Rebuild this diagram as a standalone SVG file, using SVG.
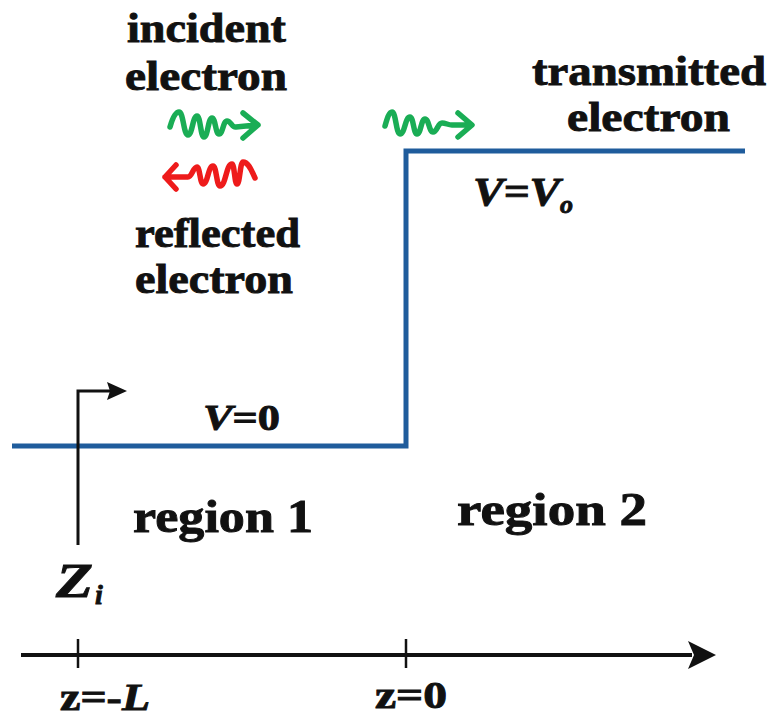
<svg xmlns="http://www.w3.org/2000/svg" width="772" height="717" viewBox="0 0 772 717">
<style>
.t{font-family:"Liberation Serif","Times New Roman",serif;font-weight:bold;fill:#111;stroke:#111;stroke-width:0.9}
.it{font-style:italic}
.w{fill:none;stroke-width:5.5;stroke-linecap:round;stroke-linejoin:round}
.g{stroke:#1aad55}
.r{stroke:#ee1b1b}
</style>
<rect width="772" height="717" fill="#fff"/>
<g id="potential">
<path d="M12,446 H406 V151 H745" fill="none" stroke="#1f5c9c" stroke-width="5"/>
</g>
<g id="labels-top">
<text class="t" x="127" y="42" font-size="42" textLength="159" lengthAdjust="spacingAndGlyphs">incident</text>
<text class="t" x="125" y="90" font-size="42" textLength="162" lengthAdjust="spacingAndGlyphs">electron</text>
<text class="t" x="135" y="247" font-size="42" textLength="165" lengthAdjust="spacingAndGlyphs">reflected</text>
<text class="t" x="135" y="293" font-size="42" textLength="158" lengthAdjust="spacingAndGlyphs">electron</text>
<text class="t" x="532" y="85" font-size="42" textLength="234" lengthAdjust="spacingAndGlyphs">transmitted</text>
<text class="t" x="567" y="131" font-size="42" textLength="163" lengthAdjust="spacingAndGlyphs">electron</text>
</g>
<g id="waves">
<path class="w g" d="M170,127 C172,120 175,112 179,112 C183.5,112 183.5,135 188,135 C192.5,135 192.5,116 197,116 C200.5,116 200.5,137 204,137 C208,137 208,118 212,118 C215.5,118 215.5,134 219,134 C223,134 223,121 227,121 C231,121 232,128 236,127 L257,125 M243,113 L258,125 L243,138"/>
<path class="w r" d="M165,177 L188,177 C192,177 193,167 197,167 C200,167 200,184 203,184 C208,184 208,166 213,166 C216.5,166 216.5,186 220,186 C226,186 226,164 232,164 C234.5,164 234.5,184 237,184 C240,184 240,162 243,162 C249,162 252,172 255,178 M176,165 L165,177 L176,189"/>
<path class="w g" d="M385,126 C387,119 389,112 392,112 C396,112 396,134 400,134 C405,134 405,117 410,117 C413.5,117 413.5,134 417,134 C421,134 421,119 425,119 C429,119 429,132 433,132 C437.5,132 437.5,123 442,123 C446,123 448,125 452,125 L471,125 M458,113 L472,125 L458,137"/>
</g>
<g id="potential-labels">
<text class="t it" x="473" y="205" font-size="40" textLength="87" lengthAdjust="spacingAndGlyphs">V=V</text>
<text class="t it" x="560" y="213" font-size="26">o</text>
<text class="t" x="203" y="430" font-size="36" textLength="77" lengthAdjust="spacingAndGlyphs"><tspan class="it">V</tspan>=0</text>
</g>
<g id="zi-marker">
<path d="M78,545 V391 H110" fill="none" stroke="#111" stroke-width="3"/>
<polygon points="127,391 107,382 110,391 107,400" fill="#111"/>
<text class="t it" x="56" y="597" font-size="48" textLength="37" lengthAdjust="spacingAndGlyphs">Z</text>
<text class="t it" x="95" y="604" font-size="28">i</text>
</g>
<g id="regions">
<text class="t" x="133" y="532" font-size="46" textLength="180" lengthAdjust="spacingAndGlyphs">region 1</text>
<text class="t" x="457" y="525" font-size="46" textLength="190" lengthAdjust="spacingAndGlyphs">region 2</text>
</g>
<g id="axis">
<line x1="21" y1="655" x2="692" y2="655" stroke="#111" stroke-width="4"/>
<polygon points="716,655 688,641 694,655 688,669" fill="#111"/>
<line x1="78" y1="639" x2="78" y2="668" stroke="#111" stroke-width="2.5"/>
<line x1="406" y1="639" x2="406" y2="668" stroke="#111" stroke-width="2.5"/>
<text class="t" x="60" y="710" font-size="38" textLength="90" lengthAdjust="spacingAndGlyphs">z=-<tspan class="it">L</tspan></text>
<text class="t" x="375" y="708" font-size="38" textLength="72" lengthAdjust="spacingAndGlyphs">z=0</text>
</g>
</svg>
